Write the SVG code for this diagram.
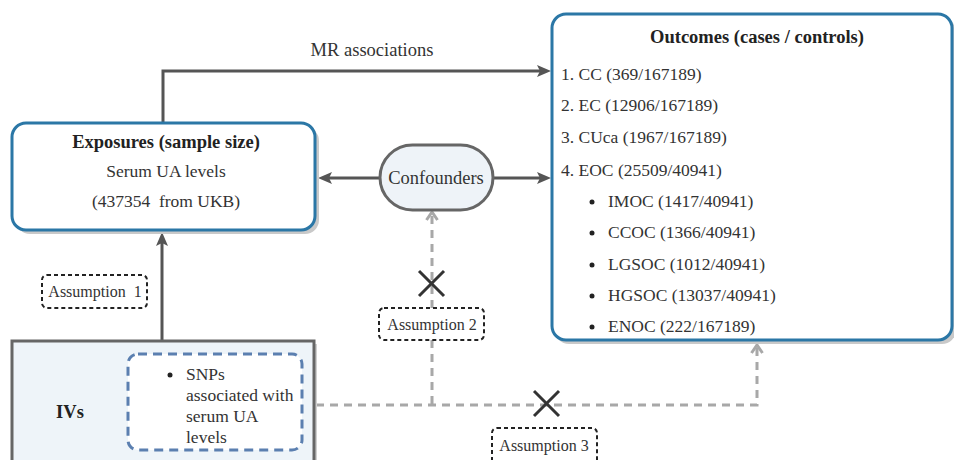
<svg xmlns="http://www.w3.org/2000/svg" width="954" height="460" viewBox="0 0 954 460" font-family="'Liberation Serif', 'DejaVu Serif', serif">
<style>
text{fill:#333;}
.t{font-size:17.5px;}
.b{font-size:18.5px;font-weight:bold;fill:#222;}
.a{font-size:16px;}
.box{fill:#fff;stroke:#2b77a6;stroke-width:3;}
.hdr{fill:#c4dcf1;}
.shadow{fill:#c9c9c9;}
.solid{fill:none;stroke:#555;stroke-width:3;}
.dash{fill:none;stroke:#a8a8a8;stroke-width:3;stroke-dasharray:8 6;}
.asm{fill:#fff;stroke:#222;stroke-width:2;stroke-dasharray:4 3;}
.x{stroke:#333;stroke-width:3;}
</style>
<defs>
<marker id="ah" viewBox="0 0 14 12" refX="6" refY="6" markerWidth="14" markerHeight="12" markerUnits="userSpaceOnUse" orient="auto">
<path d="M0,0 L14,6 L0,12 L3,6 Z" fill="#555"/>
</marker>
<marker id="ag" viewBox="0 0 12 14" refX="10" refY="7" markerWidth="12" markerHeight="14" markerUnits="userSpaceOnUse" orient="auto">
<path d="M2,1.5 L10,7 L2,12.5" fill="none" stroke="#a8a8a8" stroke-width="3"/>
</marker>
</defs>

<g id="connectors">
<path class="solid" d="M163,123 V71 H543" marker-end="url(#ah)"/>
<text class="t" x="372" y="56" text-anchor="middle" style="font-size:18.5px">MR associations</text>
<path class="solid" d="M162,341 V240" marker-end="url(#ah)"/>
<path class="solid" d="M380,178 H326" marker-end="url(#ah)"/>
<path class="solid" d="M493,178 H543" marker-end="url(#ah)"/>
<path class="dash" d="M432,308 V212" marker-end="url(#ag)"/>
<path class="dash" d="M432,340 V405"/>
<path class="dash" d="M316,405 H757 V345" marker-end="url(#ag)"/>
<g id="x1"><line class="x" x1="419" y1="271" x2="444" y2="296"/><line class="x" x1="444" y1="271" x2="419" y2="296"/></g>
<g id="x2"><line class="x" x1="534" y1="391" x2="559" y2="416"/><line class="x" x1="559" y1="391" x2="534" y2="416"/></g>
</g>

<g id="exposures">
<rect class="shadow" x="16" y="127" width="303" height="107" rx="14"/>
<rect x="12" y="123" width="303" height="107" rx="14" fill="#fff"/>
<path class="hdr" d="M12,159 V137 A14,14 0 0 1 26,123 H301 A14,14 0 0 1 315,137 V159 Z"/>
<line x1="12" y1="159" x2="315" y2="159" stroke="#2b77a6" stroke-width="3"/>
<rect class="box" x="12" y="123" width="303" height="107" rx="14" fill="none"/>
<text class="b" x="166" y="148" text-anchor="middle">Exposures (sample size)</text>
<text class="t" x="166" y="177" text-anchor="middle">Serum UA levels</text>
<text class="t" x="166" y="207" text-anchor="middle">(437354&#160; from UKB)</text>
</g>

<g id="outcomes">
<rect class="shadow" x="555" y="18" width="401" height="326" rx="14"/>
<rect x="552" y="14" width="400" height="326" rx="14" fill="#fff"/>
<path class="hdr" d="M552,54 V28 A14,14 0 0 1 566,14 H938 A14,14 0 0 1 952,28 V54 Z"/>
<line x1="552" y1="54" x2="952" y2="54" stroke="#2b77a6" stroke-width="3"/>
<rect class="box" x="552" y="14" width="400" height="326" rx="14" fill="none"/>
<text class="b" x="757" y="43" text-anchor="middle">Outcomes (cases / controls)</text>
<text class="t" x="561" y="80">1. CC (369/167189)</text>
<text class="t" x="561" y="111">2. EC (12906/167189)</text>
<text class="t" x="561" y="143">3. CUca (1967/167189)</text>
<text class="t" x="561" y="176">4. EOC (25509/40941)</text>
<g fill="#222">
<circle cx="592" cy="202" r="2.5"/>
<circle cx="592" cy="233" r="2.5"/>
<circle cx="592" cy="265" r="2.5"/>
<circle cx="592" cy="296" r="2.5"/>
<circle cx="592" cy="327" r="2.5"/>
</g>
<text class="t" x="608" y="207">IMOC (1417/40941)</text>
<text class="t" x="608" y="238">CCOC (1366/40941)</text>
<text class="t" x="608" y="270">LGSOC (1012/40941)</text>
<text class="t" x="608" y="301">HGSOC (13037/40941)</text>
<text class="t" x="608" y="332">ENOC (222/167189)</text>
</g>

<g id="confounders">
<rect x="380" y="145" width="113" height="65" rx="32.5" fill="#eef3f8" stroke="#666" stroke-width="3"/>
<text class="t" x="436" y="184" text-anchor="middle" style="font-size:18.5px">Confounders</text>
</g>

<g id="ivs">
<rect x="15" y="344" width="302" height="140" fill="#d0d0d0"/>
<rect x="12" y="341" width="302" height="140" fill="#eef4f9" stroke="#666" stroke-width="3"/>
<text class="b" x="70" y="418" text-anchor="middle">IVs</text>
<rect x="128" y="354" width="174" height="96" rx="10" fill="#fff" stroke="#5b7fb0" stroke-width="3" stroke-dasharray="9 6"/>
<circle cx="170" cy="375" r="2.5" fill="#222"/>
<text class="t" x="186" y="380">SNPs</text>
<text class="t" x="186" y="401">associated with</text>
<text class="t" x="186" y="422">serum UA</text>
<text class="t" x="186" y="443">levels</text>
</g>

<g id="assumption1">
<rect class="asm" x="42" y="275" width="105" height="33" rx="5"/>
<text class="a" x="95" y="297" text-anchor="middle">Assumption&#160; 1</text>
</g>
<g id="assumption2">
<rect class="asm" x="379" y="308" width="105" height="32" rx="5"/>
<text class="a" x="432" y="330" text-anchor="middle">Assumption 2</text>
</g>
<g id="assumption3">
<rect class="asm" x="492" y="428" width="105" height="40" rx="5"/>
<text class="a" x="544" y="451" text-anchor="middle">Assumption 3</text>
</g>
</svg>
